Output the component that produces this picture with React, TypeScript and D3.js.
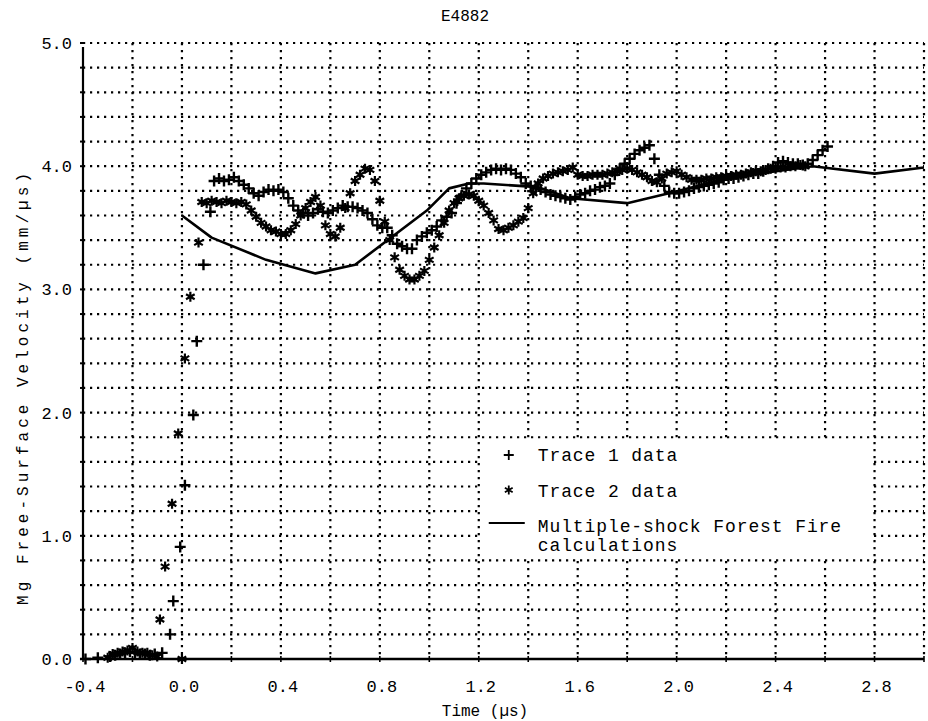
import React from "react";
import * as d3 from "d3";

// values (time in µs, velocity in mm/µs)
const trace1: [number, number][] = [
  [-0.39, 0.0], [-0.34, 0.01], [-0.29, 0.02], [-0.27, 0.03], [-0.25, 0.04], [-0.23, 0.05], [-0.21, 0.06],
  [-0.19, 0.05], [-0.17, 0.04], [-0.15, 0.04], [-0.13, 0.03], [-0.11, 0.04], [-0.08, 0.05],
  [-0.048, 0.2], [-0.035, 0.47], [-0.007, 0.91], [0.012, 1.41], [0.046, 1.98], [0.06, 2.58], [0.087, 3.2], [0.115, 3.63],
  [0.13, 3.88], [0.15, 3.9], [0.17, 3.88], [0.19, 3.89], [0.21, 3.91], [0.23, 3.88], [0.25, 3.85], [0.27, 3.82],
  [0.29, 3.78], [0.31, 3.76], [0.33, 3.79], [0.35, 3.81], [0.37, 3.8], [0.39, 3.81], [0.41, 3.79], [0.43, 3.74],
  [0.45, 3.68], [0.47, 3.64], [0.49, 3.62], [0.51, 3.6], [0.53, 3.62], [0.55, 3.65], [0.57, 3.63], [0.59, 3.62],
  [0.61, 3.64], [0.63, 3.66], [0.65, 3.68], [0.67, 3.67], [0.69, 3.67], [0.71, 3.66], [0.73, 3.64], [0.75, 3.62],
  [0.77, 3.57], [0.79, 3.52], [0.81, 3.5], [0.83, 3.5], [0.85, 3.44], [0.87, 3.37], [0.89, 3.35], [0.91, 3.33],
  [0.93, 3.33], [0.95, 3.4], [0.97, 3.43], [0.99, 3.46], [1.01, 3.48], [1.03, 3.51], [1.05, 3.56], [1.07, 3.59],
  [1.09, 3.62], [1.11, 3.7], [1.13, 3.76], [1.15, 3.82], [1.17, 3.86], [1.19, 3.9], [1.21, 3.93], [1.23, 3.95],
  [1.25, 3.97], [1.27, 3.98], [1.29, 3.97], [1.31, 3.98], [1.33, 3.97], [1.35, 3.94], [1.37, 3.91], [1.39, 3.86],
  [1.41, 3.84], [1.43, 3.82], [1.45, 3.81], [1.47, 3.79], [1.49, 3.77], [1.51, 3.76], [1.53, 3.75], [1.55, 3.74],
  [1.57, 3.73], [1.59, 3.75], [1.61, 3.77], [1.63, 3.78], [1.65, 3.8], [1.67, 3.81], [1.69, 3.83], [1.71, 3.84],
  [1.73, 3.86], [1.75, 3.93], [1.77, 3.98], [1.79, 4.02], [1.81, 4.06], [1.83, 4.1], [1.85, 4.13], [1.87, 4.15],
  [1.89, 4.17], [1.91, 4.06], [1.93, 3.93], [1.95, 3.84], [1.97, 3.79], [1.99, 3.78], [2.01, 3.78], [2.03, 3.79],
  [2.05, 3.8], [2.07, 3.82], [2.09, 3.83], [2.11, 3.84], [2.13, 3.85], [2.15, 3.86], [2.17, 3.87], [2.19, 3.89],
  [2.21, 3.9], [2.23, 3.9], [2.25, 3.91], [2.27, 3.92], [2.29, 3.93], [2.31, 3.94], [2.33, 3.94], [2.35, 3.96],
  [2.37, 3.98], [2.39, 4.0], [2.41, 4.03], [2.43, 4.04], [2.45, 4.03], [2.47, 4.02], [2.49, 4.02], [2.51, 4.01],
  [2.53, 4.02], [2.55, 4.05], [2.57, 4.09], [2.59, 4.13], [2.61, 4.16],
];

const trace2: [number, number][] = [
  [-0.3, 0.01], [-0.28, 0.04], [-0.26, 0.05], [-0.24, 0.06], [-0.22, 0.07], [-0.2, 0.09], [-0.18, 0.06],
  [-0.16, 0.05], [-0.14, 0.05], [-0.12, 0.03], [-0.1, 0.02],
  [-0.089, 0.32], [-0.068, 0.75], [-0.04, 1.26], [-0.015, 1.83], [0.0, 0.0], [0.012, 2.44], [0.034, 2.94],
  [0.067, 3.38], [0.08, 3.71],
  [0.1, 3.7], [0.12, 3.72], [0.14, 3.71], [0.16, 3.7], [0.18, 3.72], [0.2, 3.71], [0.22, 3.7], [0.24, 3.71],
  [0.26, 3.69], [0.28, 3.64], [0.3, 3.59], [0.32, 3.54], [0.34, 3.51], [0.36, 3.48], [0.38, 3.47], [0.4, 3.45],
  [0.42, 3.45], [0.44, 3.48], [0.46, 3.53], [0.48, 3.6], [0.5, 3.66], [0.52, 3.71], [0.54, 3.75], [0.56, 3.68],
  [0.58, 3.52], [0.6, 3.45], [0.62, 3.43], [0.64, 3.5], [0.66, 3.66], [0.68, 3.78], [0.7, 3.88], [0.72, 3.93],
  [0.74, 3.98], [0.76, 3.97], [0.78, 3.88], [0.8, 3.72], [0.82, 3.55], [0.84, 3.4], [0.86, 3.26], [0.88, 3.16],
  [0.9, 3.11], [0.92, 3.08], [0.94, 3.08], [0.96, 3.11], [0.98, 3.15], [1.0, 3.24], [1.02, 3.34], [1.04, 3.44],
  [1.06, 3.54], [1.08, 3.64], [1.1, 3.7], [1.12, 3.74], [1.14, 3.76], [1.16, 3.77], [1.18, 3.76], [1.2, 3.72],
  [1.22, 3.68], [1.24, 3.62], [1.26, 3.56], [1.28, 3.49], [1.3, 3.48], [1.32, 3.5], [1.34, 3.52], [1.36, 3.55],
  [1.38, 3.58], [1.4, 3.66], [1.42, 3.78], [1.44, 3.86], [1.46, 3.9], [1.48, 3.92], [1.5, 3.94], [1.52, 3.95],
  [1.54, 3.96], [1.56, 3.97], [1.58, 3.99], [1.6, 3.93], [1.62, 3.92], [1.64, 3.92], [1.66, 3.93], [1.68, 3.93],
  [1.7, 3.93], [1.72, 3.94], [1.74, 3.95], [1.76, 3.96], [1.78, 3.97], [1.8, 3.98], [1.82, 3.97], [1.84, 3.95],
  [1.86, 3.93], [1.88, 3.91], [1.9, 3.88], [1.92, 3.87], [1.94, 3.9], [1.96, 3.94], [1.98, 3.95], [2.0, 3.96],
  [2.02, 3.93], [2.04, 3.91], [2.06, 3.89], [2.08, 3.89], [2.1, 3.89], [2.12, 3.9], [2.14, 3.9], [2.16, 3.91],
  [2.18, 3.91], [2.2, 3.92], [2.22, 3.92], [2.24, 3.93], [2.26, 3.93], [2.28, 3.94], [2.3, 3.95], [2.32, 3.96],
  [2.34, 3.96], [2.36, 3.97], [2.38, 3.98], [2.4, 3.98], [2.42, 3.99], [2.44, 3.99], [2.46, 4.0], [2.48, 4.0],
  [2.5, 4.01], [2.52, 4.0],
];

const calc: [number, number][] = [
  [0.0, 3.6], [0.12, 3.42], [0.34, 3.24], [0.54, 3.13], [0.7, 3.2], [0.99, 3.64], [1.08, 3.82], [1.16, 3.86],
  [1.22, 3.86], [1.44, 3.83], [1.57, 3.74], [1.8, 3.7], [1.99, 3.79], [2.22, 3.91], [2.55, 4.0], [2.8, 3.94],
  [3.0, 3.99],
];

const xTicks = [-0.4, 0.0, 0.4, 0.8, 1.2, 1.6, 2.0, 2.4, 2.8];
const yTicks = [0, 1, 2, 3, 4, 5];
const legendItems = ["Trace 1 data", "Trace 2 data"];

const W = 928;
const H = 721;
const FONT = "'Liberation Mono', 'DejaVu Sans Mono', monospace";

const plus = (s: number) => `M${-s},0H${s}M0,${-s}V${s}`;
const star = (s: number) => {
  const a = s * 0.866;
  const b = s * 0.5;
  return `M0,${-s}V${s}M${-a},${-b}L${a},${b}M${-a},${b}L${a},${-b}`;
};

export default function App() {
  const x = d3.scaleLinear().domain([-0.4, 3.0]).range([83, 924]);
  const y = d3.scaleLinear().domain([0, 5]).range([659, 43]);

  const gridX = d3.range(1, 18).map((i) => -0.4 + i * 0.2);
  const gridY = d3.range(1, 26).map((i) => i * 0.2);
  const minor = d3.range(0, 18).map((i) => -0.4 + i * 0.2);
  const minorY = d3.range(0, 26).map((i) => i * 0.2);

  const line = d3
    .line<[number, number]>()
    .x((d) => x(d[0]))
    .y((d) => y(d[1]));

  const dot = { stroke: "#000", strokeWidth: 2.2, strokeDasharray: "2.2 4.8" };
  const lx = x(1.2);

  return (
    <svg width={W} height={H} style={{ position: "absolute", left: 0, top: 0, background: "#fff" }}
      fontFamily={FONT}>
      <rect width={W} height={H} fill="#fff" />
      <text x={465} y={21} textAnchor="middle" fontSize={16}>E4882</text>

      {/* dotted grid */}
      {gridX.map((t) => (
        <line key={"gx" + t} x1={x(t)} x2={x(t)} y1={y(5)} y2={y(0)} {...dot} />
      ))}
      {gridY.map((v) => (
        <line key={"gy" + v} x1={x(-0.4)} x2={x(3.0)} y1={y(v)} y2={y(v)} {...dot} />
      ))}

      {/* legend box blanks out the grid inside */}
      <rect x={x(1.2) + 2} y={y(1.8) + 2} width={x(2.8) - x(1.2) - 4} height={y(0.8) - y(1.8) - 4} fill="#fff" />

      {/* axes */}
      <line x1={x(-0.4)} x2={x(-0.4)} y1={y(5) + 4} y2={y(0)} stroke="#000" strokeWidth={2.2} />
      <line x1={x(-0.4)} x2={x(3.0)} y1={y(0)} y2={y(0)} stroke="#000" strokeWidth={2.6} />
      {minorY.map((v) => (
        <line key={"ty" + v} x1={x(-0.4) - 3} x2={x(-0.4)} y1={y(v)} y2={y(v)} stroke="#000" strokeWidth={2} />
      ))}
      {minor.map((t) => (
        <line key={"tx" + t} x1={x(t)} x2={x(t)} y1={y(0) - 3} y2={y(0) + 3} stroke="#000" strokeWidth={1.6} />
      ))}

      {yTicks.map((v) => (
        <text key={"yl" + v} x={72} y={y(v) + 6} textAnchor="end" fontSize={17}>
          {v.toFixed(1)}
        </text>
      ))}
      {xTicks.map((t) => (
        <text key={"xl" + t} x={x(t) + 2} y={692} textAnchor="middle" fontSize={17}>
          {(Math.abs(t) < 1e-9 ? 0 : t).toFixed(1)}
        </text>
      ))}
      <text x={485} y={716} textAnchor="middle" fontSize={16}>Time (µs)</text>
      <text transform={`translate(28,${389}) rotate(-90)`} textAnchor="middle" fontSize={16}
        textLength={432} lengthAdjust="spacing">
        Mg Free-Surface Velocity (mm/µs)
      </text>

      {/* calculation */}
      <path d={line(calc) || ""} fill="none" stroke="#000" strokeWidth={2.6} strokeLinejoin="round" />

      {/* data */}
      {trace1.map((d, i) => (
        <path key={"a" + i} d={plus(5.5)} transform={`translate(${x(d[0])},${y(d[1])})`}
          stroke="#000" strokeWidth={2.4} fill="none" />
      ))}
      {trace2.map((d, i) => (
        <path key={"b" + i} d={star(5)} transform={`translate(${x(d[0])},${y(d[1])})`}
          stroke="#000" strokeWidth={2.2} fill="none" />
      ))}

      {/* legend */}
      <g fontSize={18} letterSpacing={0.9}>
        <path d={plus(5)} transform={`translate(${lx + 30},455)`} stroke="#000" strokeWidth={1.8} fill="none" />
        <text x={lx + 59} y={461}>{legendItems[0]}</text>
        <path d={star(4.5)} transform={`translate(${lx + 30},490)`} stroke="#000" strokeWidth={1.8} fill="none" />
        <text x={lx + 59} y={497}>{legendItems[1]}</text>
        <line x1={lx + 10} x2={lx + 46} y1={523} y2={523} stroke="#000" strokeWidth={1.8} />
        <text x={lx + 59} y={532}>Multiple-shock Forest Fire</text>
        <text x={lx + 59} y={551}>calculations</text>
      </g>
    </svg>
  );
}
